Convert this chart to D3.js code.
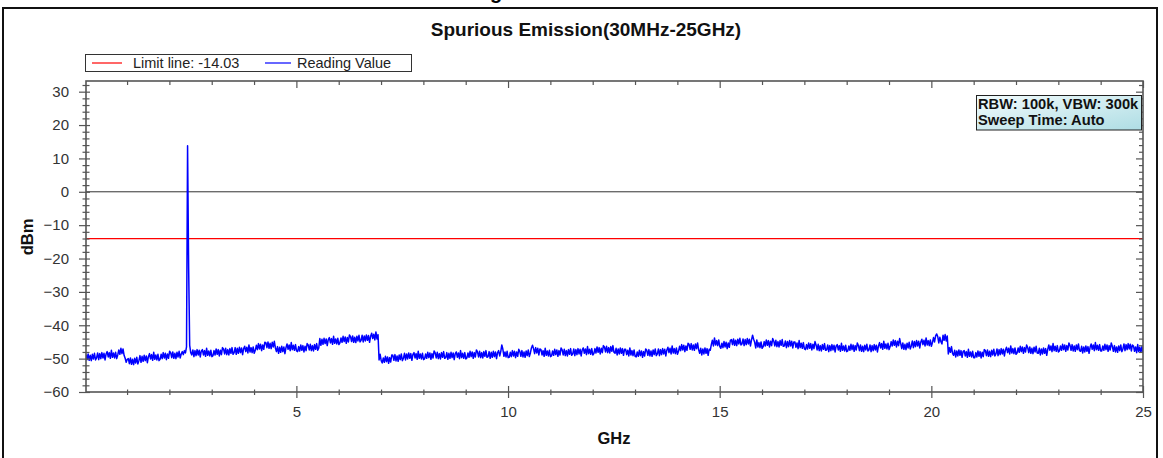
<!DOCTYPE html>
<html><head><meta charset="utf-8">
<script src="https://cdn.jsdelivr.net/npm/d3@7"></script>
<style>body{margin:0;background:#fff} text{font-family:Arial,"Liberation Sans",sans-serif}</style>
</head><body><svg id="c" width="1163" height="458"></svg>
<script>
// ---- data ----
const titleText = "Spurious Emission(30MHz-25GHz)";
const freqStart = 0.03, freqStop = 25;   // GHz, evenly spaced sweep points
const readings = [
-48.8,-50.3,-48.6,-50.5,-49.0,-50.6,-48.7,-50.1,-48.4,-50.4,
-49.8,-48.3,-50.3,-48.5,-50.0,-48.2,-49.8,-48.4,-50.4,-48.6,
-47.9,-49.5,-48.2,-49.9,-47.5,-49.6,-48.3,-49.8,-48.1,-50.0,
-48.9,-47.4,-48.7,-46.9,-48.5,-47.1,-49.0,-49.9,-51.1,-50.2,
-50.0,-51.5,-49.8,-51.7,-50.2,-51.8,-49.9,-51.3,-49.6,-51.6,
-50.6,-49.1,-51.1,-49.3,-50.8,-49.0,-50.6,-49.2,-51.2,-49.4,
-48.5,-50.1,-48.8,-50.5,-48.1,-50.2,-48.9,-50.4,-48.7,-50.6,
-50.2,-48.7,-50.0,-48.2,-49.8,-48.4,-50.3,-48.6,-49.9,-47.8,
-48.2,-49.7,-48.0,-49.9,-48.4,-50.0,-48.1,-49.5,-47.8,-49.8,
-48.6,-47.9,-48.8,-47.6,-48.3,-46.5,13.8,-22.5,-46.0,-48.2,
-48.9,-47.4,-49.4,-47.6,-49.1,-47.3,-48.9,-47.5,-49.5,-47.7,
-47.3,-48.9,-47.6,-49.3,-46.9,-49.0,-47.7,-49.2,-47.5,-49.4,
-49.1,-47.6,-48.9,-47.1,-48.7,-47.3,-49.2,-47.5,-48.8,-46.7,
-47.1,-48.6,-46.9,-48.8,-47.3,-48.9,-47.0,-48.4,-46.7,-48.7,
-48.2,-46.7,-48.7,-46.9,-48.4,-46.6,-48.2,-46.8,-48.8,-47.0,
-46.3,-47.9,-46.6,-48.3,-45.9,-48.0,-46.7,-48.2,-46.5,-48.4,
-47.5,-46.0,-47.3,-45.5,-47.1,-45.7,-47.6,-45.9,-47.2,-45.1,
-45.2,-46.7,-45.0,-46.9,-45.4,-47.0,-45.1,-46.5,-44.8,-46.8,
-47.9,-46.4,-48.4,-46.6,-48.1,-46.3,-47.9,-46.5,-48.5,-46.7,
-45.6,-47.2,-45.9,-47.6,-45.2,-47.3,-46.0,-47.5,-45.8,-47.7,
-47.9,-46.4,-47.7,-45.9,-47.5,-46.1,-48.0,-46.3,-47.6,-45.5,
-45.9,-47.4,-45.7,-47.6,-46.1,-47.7,-45.8,-47.2,-45.5,-47.5,
-46.8,-44.0,-46.0,-44.2,-45.7,-43.9,-45.5,-44.1,-46.1,-44.3,
-43.7,-45.3,-44.0,-45.7,-43.3,-45.4,-44.1,-45.6,-43.9,-45.8,
-45.3,-43.8,-45.1,-43.3,-44.9,-43.5,-45.4,-43.7,-45.0,-42.9,
-43.4,-44.9,-43.2,-45.1,-43.6,-45.2,-43.3,-44.7,-43.0,-45.0,
-44.5,-43.0,-45.0,-43.2,-44.7,-42.9,-44.5,-43.1,-45.1,-43.3,
-42.4,-44.0,-42.7,-44.4,-42.0,-44.1,-42.8,-50.4,-48.7,-50.6,
-51.3,-49.8,-51.1,-49.3,-50.9,-49.5,-51.4,-49.7,-51.0,-48.9,
-49.0,-50.5,-48.8,-50.7,-49.2,-50.8,-48.9,-50.3,-48.6,-50.6,
-49.9,-48.4,-50.4,-48.6,-50.1,-48.3,-49.9,-48.5,-50.5,-48.7,
-48.2,-49.8,-48.5,-50.2,-47.8,-49.9,-48.6,-50.1,-48.4,-50.3,
-50.1,-48.6,-49.9,-48.1,-49.7,-48.3,-50.2,-48.5,-49.8,-47.7,
-48.3,-49.8,-48.1,-50.0,-48.5,-50.1,-48.2,-49.6,-47.9,-49.9,
-49.7,-48.2,-50.2,-48.4,-49.9,-48.1,-49.7,-48.3,-50.3,-48.5,
-48.0,-49.6,-48.3,-50.0,-47.6,-49.7,-48.4,-49.9,-48.2,-50.1,
-49.8,-48.3,-49.6,-47.8,-49.4,-48.0,-49.9,-48.2,-49.5,-47.4,
-48.0,-49.5,-47.8,-49.7,-48.2,-49.8,-47.9,-49.3,-47.6,-49.6,
-49.4,-47.9,-49.9,-48.1,-49.6,-47.8,-49.4,-48.0,-50.0,-48.2,
-47.6,-49.2,-47.9,-45.9,-47.2,-49.3,-48.0,-49.5,-47.8,-49.7,
-49.6,-48.1,-49.4,-47.6,-49.2,-47.8,-49.7,-48.0,-49.3,-47.2,
-47.8,-49.3,-47.6,-49.5,-48.0,-49.6,-47.7,-49.1,-47.4,-49.4,
-48.3,-46.8,-46.0,-47.0,-48.5,-46.7,-48.3,-46.9,-48.9,-47.1,
-47.3,-48.9,-47.6,-49.3,-46.9,-49.0,-47.7,-49.2,-47.5,-49.4,
-49.2,-47.7,-49.0,-47.2,-48.8,-47.4,-49.3,-47.6,-48.9,-46.8,
-47.4,-48.9,-47.2,-49.1,-47.6,-49.2,-47.3,-48.7,-47.0,-49.0,
-48.6,-47.1,-49.1,-47.3,-48.8,-47.0,-48.6,-47.2,-49.2,-47.4,
-46.8,-48.4,-47.1,-48.8,-46.4,-48.5,-47.2,-48.7,-47.0,-48.9,
-48.5,-47.0,-48.3,-46.5,-48.1,-46.7,-48.6,-46.9,-48.2,-46.1,
-46.5,-48.0,-46.3,-48.2,-46.7,-48.3,-46.4,-47.8,-46.1,-48.1,
-48.4,-46.9,-48.9,-47.1,-48.6,-46.8,-48.4,-47.0,-49.0,-47.2,
-47.2,-48.8,-47.5,-49.2,-46.8,-48.9,-47.6,-49.1,-47.4,-49.3,
-49.5,-48.0,-49.3,-47.5,-49.1,-47.7,-49.6,-47.9,-49.2,-47.1,
-47.5,-49.0,-47.3,-49.2,-47.7,-49.3,-47.4,-48.8,-47.1,-49.1,
-48.6,-47.1,-49.1,-47.3,-48.8,-47.0,-48.6,-47.2,-49.2,-47.4,
-46.6,-48.2,-46.9,-48.6,-46.2,-48.3,-47.0,-48.5,-46.8,-48.7,
-47.8,-46.3,-47.6,-45.8,-47.4,-46.0,-47.9,-46.2,-47.5,-45.4,
-45.7,-47.2,-45.5,-47.4,-45.9,-47.5,-45.6,-47.0,-45.3,-47.3,
-48.4,-46.9,-48.9,-47.1,-48.6,-46.8,-48.4,-47.0,-49.0,-47.2,
-47.5,-45.8,-44.5,-46.2,-43.8,-45.9,-44.6,-46.1,-44.4,-46.3,
-46.9,-45.4,-46.7,-44.9,-46.5,-45.1,-47.0,-45.3,-46.6,-44.5,
-44.3,-45.8,-44.1,-46.0,-44.5,-46.1,-44.2,-45.6,-43.9,-45.9,
-45.6,-44.1,-46.1,-44.3,-45.8,-44.0,-45.6,-44.2,-46.2,-44.4,
-43.0,-44.2,-45.1,-46.8,-44.4,-46.5,-45.2,-46.7,-45.0,-46.9,
-46.4,-44.9,-46.2,-44.4,-46.0,-44.6,-46.5,-44.8,-46.1,-44.0,
-44.7,-46.2,-44.5,-46.4,-44.9,-46.5,-44.6,-46.0,-44.3,-46.3,
-46.2,-44.7,-46.7,-44.9,-46.4,-44.6,-46.2,-44.8,-46.8,-45.0,
-45.0,-46.6,-45.3,-47.0,-44.6,-46.7,-45.4,-46.9,-45.2,-47.1,
-47.3,-45.8,-47.1,-45.3,-46.9,-45.5,-47.4,-45.7,-47.0,-44.9,
-45.9,-47.4,-45.7,-47.6,-46.1,-47.7,-45.8,-47.2,-45.5,-47.5,
-47.4,-45.9,-47.9,-46.1,-47.6,-45.8,-47.4,-46.0,-48.0,-46.2,
-45.8,-47.4,-46.1,-47.8,-45.4,-47.5,-46.2,-47.7,-46.0,-47.9,
-47.7,-46.2,-47.5,-45.7,-47.3,-45.9,-47.8,-46.1,-47.4,-45.3,
-46.1,-47.6,-45.9,-47.8,-46.3,-47.9,-46.0,-47.4,-45.7,-47.7,
-47.4,-45.9,-47.9,-46.1,-47.6,-45.8,-47.4,-46.0,-48.0,-46.2,
-45.2,-46.8,-45.5,-47.2,-44.8,-46.9,-45.6,-47.1,-45.4,-47.3,
-46.4,-44.9,-46.2,-44.4,-46.0,-44.6,-46.5,-44.8,-46.1,-44.0,
-45.5,-47.0,-45.3,-47.2,-45.7,-47.3,-45.4,-46.8,-45.1,-47.1,
-46.2,-44.7,-46.7,-44.9,-46.4,-44.6,-46.2,-44.8,-46.8,-45.0,
-44.2,-45.8,-44.5,-46.2,-43.8,-45.9,-44.6,-46.1,-44.4,-46.3,
-45.2,-43.7,-45.0,-43.2,-42.6,-43.4,-45.3,-43.6,-44.9,-45.6,
-43.0,-44.5,-42.8,-44.7,-43.2,-48.6,-46.7,-48.1,-46.4,-48.4,
-49.0,-47.5,-49.5,-47.7,-49.2,-47.4,-49.0,-47.6,-49.6,-47.8,
-47.6,-49.2,-47.9,-49.6,-47.2,-49.3,-48.0,-49.5,-47.8,-49.7,
-49.7,-48.2,-49.5,-47.7,-49.3,-47.9,-49.8,-48.1,-49.4,-47.3,
-47.6,-49.1,-47.4,-49.3,-47.8,-49.4,-47.5,-48.9,-47.2,-49.2,
-48.6,-47.1,-49.1,-47.3,-48.8,-47.0,-48.6,-47.2,-49.2,-47.4,
-46.6,-48.2,-46.9,-48.6,-46.2,-48.3,-47.0,-48.5,-46.8,-48.7,
-48.3,-46.8,-48.1,-46.3,-47.9,-46.5,-48.4,-46.7,-48.0,-45.9,
-46.7,-48.2,-46.5,-48.4,-46.9,-48.5,-46.6,-48.0,-46.3,-48.3,
-48.4,-46.9,-48.9,-47.1,-48.6,-46.8,-48.4,-47.0,-49.0,-47.2,
-45.9,-47.5,-46.2,-47.9,-45.5,-47.6,-46.3,-47.8,-46.1,-48.0,
-47.7,-46.2,-47.5,-45.7,-47.3,-45.9,-47.8,-46.1,-47.4,-45.3,
-46.0,-47.5,-45.8,-47.7,-46.2,-47.8,-45.9,-47.3,-45.6,-47.6,
-47.8,-46.3,-48.3,-46.5,-48.0,-46.2,-47.8,-46.4,-48.4,-46.6,
-45.6,-47.2,-45.9,-47.6,-45.2,-47.3,-46.0,-47.5,-45.8,-47.7,
-47.7,-46.2,-47.5,-45.7,-47.3,-45.9,-47.8,-46.1,-47.4,-45.3,
-46.3,-47.8,-46.1,-48.0,-46.5,-48.1,-46.2,-47.6,-45.9,-47.9,
-47.1,-45.6,-47.6,-45.8,-47.3,-45.5,-47.1,-45.7,-47.7,-45.9,
-46.2,-47.8,-46.5,-48.2,-45.8,-47.9,-46.6,-48.1,-46.4,-48.3
];
const limitValue = -14.03;
const zeroValue = 0;
const xDomain = [0.03, 25];
const yDomain = [-60, 33.2];
const xMajorTicks = [5, 10, 15, 20, 25];
const xMinorTicks = [1,2,3,4,6,7,8,9,11,12,13,14,16,17,18,19,21,22,23,24];
const yMajorTicks = [-60,-50,-40,-30,-20,-10,0,10,20,30];
const yMinorTicks = [-58,-56,-54,-52,-48,-46,-44,-42,-38,-36,-34,-32,-28,-26,-24,-22,-18,-16,-14,-12,-8,-6,-4,-2,2,4,6,8,12,14,16,18,22,24,26,28,32];
const legendLabels = ["Limit line: -14.03", "Reading Value"];
const legendColors = ["#ff0000", "#0000ff"];
const noteLines = ["RBW: 100k, VBW: 300k", "Sweep Time: Auto"];
const xLabel = "GHz", yLabel = "dBm";

// ---- drawing ----
const svg = d3.select("#c");
const L = 86, R = 1143, T = 81, B = 392;
const x = d3.scaleLinear().domain(xDomain).range([L, R]);
const y = d3.scaleLinear().domain(yDomain).range([B, T]);
const axisColor = "#555";
const labelColor = "#333";

svg.append("rect").attr("width",1163).attr("height",458).attr("fill","#fff");
// cut-off heading glyph at very top (only its descender shows, as in the source page)
svg.append("text").attr("x",490).attr("y",-1).attr("font-family","'Liberation Serif',serif")
  .attr("font-weight","bold").attr("font-size",20).attr("fill","#000").text("g");
// outer frame
svg.append("rect").attr("x",3).attr("y",8).attr("width",1154).attr("height",470)
  .attr("fill","none").attr("stroke","#111").attr("stroke-width",2);

// title
svg.append("text").attr("x",586).attr("y",36).attr("text-anchor","middle")
  .attr("font-weight","bold").attr("font-size",19).attr("fill","#111").text(titleText);

// legend
const lg = svg.append("g");
lg.append("rect").attr("x",85.5).attr("y",54.5).attr("width",326).attr("height",17)
  .attr("fill","#fff").attr("stroke","#333").attr("stroke-width",1);
const legX = [[92,122,133],[265,291,297]];
legendLabels.forEach((t,i)=>{
  lg.append("line").attr("x1",legX[i][0]).attr("x2",legX[i][1]).attr("y1",63).attr("y2",63)
    .attr("stroke",legendColors[i]).attr("stroke-width",1.2);
  lg.append("text").attr("x",legX[i][2]).attr("y",68).attr("font-size",14.5).attr("fill","#222").text(t);
});

// clip for data
svg.append("clipPath").attr("id","clip").append("rect").attr("x",L).attr("y",T).attr("width",R-L).attr("height",B-T);

// zero line & limit line
svg.append("line").attr("x1",L).attr("x2",R).attr("y1",y(zeroValue)).attr("y2",y(zeroValue))
  .attr("stroke","#333").attr("stroke-width",1);
svg.append("line").attr("x1",L).attr("x2",R).attr("y1",y(limitValue)).attr("y2",y(limitValue))
  .attr("stroke","#ff0000").attr("stroke-width",1.3);

// trace
const step = (freqStop - freqStart) / (readings.length - 1);
const pts = readings.map((v,i)=>[freqStart + i*step, v]);
svg.append("path").datum(pts).attr("clip-path","url(#clip)")
  .attr("fill","none").attr("stroke","#0000ff").attr("stroke-width",1.5).attr("stroke-linejoin","round")
  .attr("d", d3.line().x(d=>x(d[0])).y(d=>y(d[1])));

function styleAxis(g){
  g.select(".domain").remove();
  g.selectAll("line").attr("stroke",axisColor).attr("stroke-width",1.2);
  g.selectAll("text").attr("fill",labelColor).attr("font-size",15).attr("font-family","Arial,'Liberation Sans',sans-serif");
}
// bottom axis
const gbMinor = svg.append("g").attr("transform",`translate(0,${B})`)
  .call(d3.axisBottom(x).tickValues(xMinorTicks).tickSize(3).tickFormat(""));
styleAxis(gbMinor); gbMinor.selectAll("line").attr("y1",-2.5);
const gb = svg.append("g").attr("transform",`translate(0,${B})`)
  .call(d3.axisBottom(x).tickValues(xMajorTicks).tickSize(6).tickPadding(8).tickFormat(d3.format("d")));
styleAxis(gb); gb.selectAll("line").attr("y1",-6);
// top axis (inward ticks)
const gt1 = svg.append("g").attr("transform",`translate(0,${T})`)
  .call(d3.axisBottom(x).tickValues(xMinorTicks).tickSize(4).tickFormat(""));
styleAxis(gt1);
const gt2 = svg.append("g").attr("transform",`translate(0,${T})`)
  .call(d3.axisBottom(x).tickValues(xMajorTicks).tickSize(7).tickFormat(""));
styleAxis(gt2);
// left axis
const glMinor = svg.append("g").attr("transform",`translate(${L},0)`)
  .call(d3.axisLeft(y).tickValues(yMinorTicks).tickSize(3.5).tickFormat(""));
styleAxis(glMinor); glMinor.selectAll("line").attr("x1",3.5);
const gl = svg.append("g").attr("transform",`translate(${L},0)`)
  .call(d3.axisLeft(y).tickValues(yMajorTicks).tickSize(7).tickPadding(10).tickFormat(d3.format("d")));
styleAxis(gl); gl.selectAll("line").attr("x1",4);
// right axis (inward ticks)
const gr1 = svg.append("g").attr("transform",`translate(${R},0)`)
  .call(d3.axisLeft(y).tickValues(yMinorTicks).tickSize(4).tickFormat(""));
styleAxis(gr1);
const gr2 = svg.append("g").attr("transform",`translate(${R},0)`)
  .call(d3.axisLeft(y).tickValues(yMajorTicks).tickSize(7).tickFormat(""));
styleAxis(gr2);
// plot border
svg.append("rect").attr("x",L).attr("y",T).attr("width",R-L).attr("height",B-T)
  .attr("fill","none").attr("stroke",axisColor).attr("stroke-width",1.6);

// axis labels
svg.append("text").attr("x",614).attr("y",444).attr("text-anchor","middle")
  .attr("font-weight","bold").attr("font-size",16.5).attr("fill","#111").text(xLabel);
svg.append("text").attr("transform","translate(33,237) rotate(-90)").attr("text-anchor","middle")
  .attr("font-weight","bold").attr("font-size",16.5).attr("fill","#111").text(yLabel);

// annotation box
const defs = svg.append("defs");
const grad = defs.append("linearGradient").attr("id","ng").attr("x1","0").attr("y1","0").attr("x2","1").attr("y2","1");
grad.append("stop").attr("offset","0").attr("stop-color","#f2fbfc");
grad.append("stop").attr("offset","1").attr("stop-color","#aedde4");
svg.append("rect").attr("x",976.5).attr("y",95.5).attr("width",165).attr("height",34.5)
  .attr("fill","url(#ng)").attr("stroke","#222").attr("stroke-width",1);
noteLines.forEach((t,i)=>{
  svg.append("text").attr("x",978).attr("y",108.5+i*16.5).attr("font-size",14.7)
    .attr("font-weight","bold").attr("fill","#111").text(t);
});
</script></body></html>
